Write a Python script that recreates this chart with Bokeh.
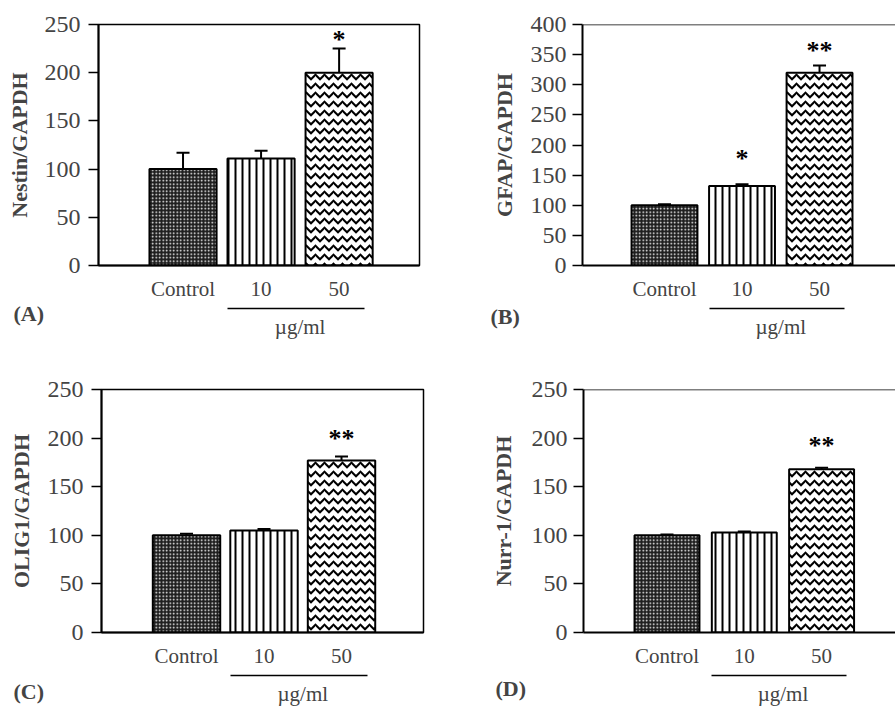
from bokeh.plotting import figure
from bokeh.models import (ColumnDataSource, Whisker, TeeHead, Span, FixedTicker, Range1d,
                          Title, LinearAxis)
from bokeh.layouts import column, row
from bokeh.embed import file_html
from bokeh.resources import INLINE
from bokeh.core.properties import value

# ---------------- data ----------------
categories = ["Control", "10", "50"]
x_pos = [1, 2, 3]
unit_label = "µg/ml"
unit_group = [2, 3]          # categories sharing the concentration unit

nestin_mean = [100, 111, 200]
nestin_err = [17, 8, 25]
nestin_star_x = [3]
nestin_star_y = [238]
nestin_star_txt = ["*"]

gfap_mean = [100, 132, 320]
gfap_err = [1.5, 3, 12]
gfap_star_x = [2, 3]
gfap_star_y = [182, 362]
gfap_star_txt = ["*", "**"]

olig1_mean = [100, 105, 177]
olig1_err = [1.5, 1.5, 4]
olig1_star_x = [3]
olig1_star_y = [203]
olig1_star_txt = ["**"]

nurr1_mean = [100, 103, 168]
nurr1_err = [0.8, 1, 1.5]
nurr1_star_x = [3]
nurr1_star_y = [195]
nurr1_star_txt = ["**"]

SERIF = "Liberation Serif"

BAR_STYLES = [
    dict(fill_color="#1e1e1e", hatch_pattern="dot", hatch_color="white", hatch_scale=3.5, hatch_weight=1.2),
    dict(fill_color="white", hatch_pattern="vertical_line", hatch_color="black", hatch_scale=7, hatch_weight=2),
    dict(fill_color="white", hatch_pattern="horizontal_wave", hatch_color="black", hatch_scale=9, hatch_weight=2),
]


def make_panel(mean, err, sx, sy, stxt, ylabel, letter, ymax, g):
    p = figure(width=g["fig_w"], height=g["fig_h"], output_backend="svg", toolbar_location=None,
               x_range=Range1d(g["x0"], g["x1"]), y_range=Range1d(0, ymax),
               min_border_left=g["bl"], min_border_right=g["br"],
               min_border_top=g["bt"], min_border_bottom=g["bb"])
    p.xgrid.grid_line_color = None
    p.ygrid.grid_line_color = None
    if g["outline"]:
        p.outline_line_color = "black"
        p.outline_line_width = 1.5
        p.outline_line_alpha = 1.0
    else:
        p.outline_line_color = None
        p.add_layout(Span(location=ymax, dimension="width", line_color="black", line_width=1.5))

    # bars
    for i in range(len(x_pos)):
        src = ColumnDataSource(dict(x=[x_pos[i]], top=[mean[i]]))
        p.vbar(x="x", top="top", bottom=0, width=g["bar_w"], source=src,
               line_color="black", line_width=2, **BAR_STYLES[i])

    # error bars (upper only)
    esrc = ColumnDataSource(dict(x=x_pos, lower=mean, upper=[m + e for m, e in zip(mean, err)]))
    p.add_layout(Whisker(base="x", lower="lower", upper="upper", source=esrc, dimension="height",
                         line_color="black", line_width=2, lower_head=None,
                         upper_head=TeeHead(size=13, line_width=2, line_color="black")))

    # significance stars
    p.text(x=sx, y=sy, text=stxt, text_font=value(SERIF), text_font_style="bold",
           text_font_size="26px", text_align="center", text_baseline="middle",
           y_offset=3, text_color="black")

    # y axis
    yax = p.yaxis[0]
    yax.ticker = FixedTicker(ticks=list(range(0, ymax + 1, 50)))
    yax.axis_label = ylabel
    yax.axis_label_text_font = SERIF
    yax.axis_label_text_font_style = "bold"
    yax.axis_label_text_font_size = "22px"
    yax.axis_label_standoff = g["label_standoff"]
    yax.major_label_text_font = SERIF
    yax.major_label_text_font_size = "24px"
    yax.major_label_standoff = g["tick_standoff"]
    yax.major_tick_out = 10
    yax.major_tick_in = 0
    yax.major_tick_line_width = 1.5
    yax.minor_tick_line_color = None
    yax.axis_line_width = 2

    # x axis with category names
    xax = p.xaxis[0]
    xax.ticker = FixedTicker(ticks=x_pos)
    xax.major_label_overrides = {x: c for x, c in zip(x_pos, categories)}
    xax.major_label_text_font = SERIF
    xax.major_label_text_font_size = "21px"
    xax.major_label_standoff = 5
    xax.major_tick_line_color = None
    xax.minor_tick_line_color = None
    xax.axis_line_width = 2
    xax.axis_label = " "
    xax.axis_label_text_font_size = "1px"
    xax.axis_label_standoff = 1

    # second axis below: line under the concentration groups with the unit
    gx0 = unit_group[0] - g["bar_w"] / 2
    gx1 = unit_group[-1] + g["bar_w"] / 2 - 0.1
    gxc = sum(unit_group) / len(unit_group)
    ax2 = LinearAxis(bounds=(gx0, gx1), ticker=FixedTicker(ticks=[gxc]),
                     major_label_overrides={gxc: unit_label}, major_label_text_font=SERIF,
                     major_label_text_font_size="21px", major_tick_line_color=None,
                     minor_tick_line_color=None, axis_line_width=1.5, major_label_standoff=0)
    p.add_layout(ax2, "below")

    # panel letter
    p.add_layout(Title(text=letter, align="left", vertical_align="top", offset=g["letter_dx"],
                       standoff=g["letter_so"], text_font=SERIF, text_font_size="22px",
                       text_font_style="bold"), "below")
    return p


GA = dict(fig_w=445, fig_h=370, bl=98, br=26, bt=24, bb=105,
          x0=-0.083, x1=4.03, bar_w=0.86, tick_standoff=8, label_standoff=10, outline=True,
          letter_dx=-85, letter_so=-81)
GB = dict(fig_w=450, fig_h=370, bl=137, br=0, bt=24, bb=105,
          x0=-0.058, x1=3.98, bar_w=0.85, tick_standoff=6, label_standoff=11, outline=False,
          letter_dx=-92, letter_so=-75)
GC = dict(fig_w=445, fig_h=341, bl=101, br=22, bt=19, bb=79,
          x0=-0.097, x1=4.058, bar_w=0.87, tick_standoff=8, label_standoff=11, outline=True,
          letter_dx=-88, letter_so=-59)
GD = dict(fig_w=450, fig_h=341, bl=138, br=0, bt=19, bb=79,
          x0=-0.08, x1=3.956, bar_w=0.84, tick_standoff=6, label_standoff=13, outline=False,
          letter_dx=-88, letter_so=-65)

pa = make_panel(nestin_mean, nestin_err, nestin_star_x, nestin_star_y, nestin_star_txt,
                "Nestin/GAPDH", "(A)", 250, GA)
pb = make_panel(gfap_mean, gfap_err, gfap_star_x, gfap_star_y, gfap_star_txt,
                "GFAP/GAPDH", "(B)", 400, GB)
pc = make_panel(olig1_mean, olig1_err, olig1_star_x, olig1_star_y, olig1_star_txt,
                "OLIG1/GAPDH", "(C)", 250, GC)
pd = make_panel(nurr1_mean, nurr1_err, nurr1_star_x, nurr1_star_y, nurr1_star_txt,
                "Nurr-1/GAPDH", "(D)", 250, GD)

layout = column(row(pa, pb, spacing=0), row(pc, pd, spacing=0), spacing=0)

open("out.html", "w").write(file_html(layout, INLINE))
